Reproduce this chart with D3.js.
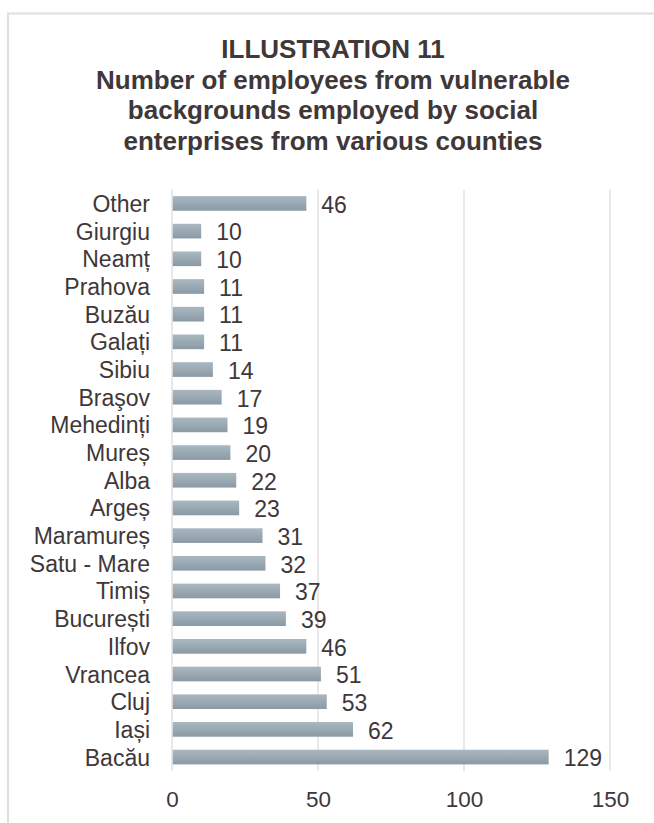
<!DOCTYPE html>
<html>
<head>
<meta charset="utf-8">
<script src="https://cdn.jsdelivr.net/npm/d3@7"></script>
<style>
  html, body { margin: 0; padding: 0; background: #ffffff; }
  svg { display: block; }
  text { font-family: "Liberation Sans", Arial, sans-serif; }
</style>
</head>
<body>
<div id="chart"></div>
<script>
// ---- Data ----
const titleLines = [
  "ILLUSTRATION 11",
  "Number of employees from vulnerable",
  "backgrounds employed by social",
  "enterprises from various counties"
];
const categories = ["Other", "Giurgiu", "Neamț", "Prahova", "Buzău", "Galați", "Sibiu", "Braşov",
  "Mehedinți", "Mureș", "Alba", "Argeș", "Maramureș", "Satu - Mare", "Timiș", "București",
  "Ilfov", "Vrancea", "Cluj", "Iași", "Bacău"];
const values = [46, 10, 10, 11, 11, 11, 14, 17, 19, 20, 22, 23, 31, 32, 37, 39, 46, 51, 53, 62, 129];
const tickValues = [0, 50, 100, 150];

// ---- Layout ----
const W = 654, H = 823;
const textColor = "#403739";
const gridColor = "#e3dfe0";

const svg = d3.select("#chart").append("svg")
  .attr("width", W).attr("height", H);

svg.append("rect").attr("x", 0).attr("y", 0).attr("width", W).attr("height", H).attr("fill", "#fff");

// chart border (extends beyond right/bottom of the window)
svg.append("rect")
  .attr("x", 8).attr("y", 13.5)
  .attr("width", 700).attr("height", 900)
  .attr("fill", "none")
  .attr("stroke", "#e2dede")
  .attr("stroke-width", 2);

const defs = svg.append("defs");
const grad = defs.append("linearGradient").attr("id", "barGrad")
  .attr("x1", 0).attr("y1", 0).attr("x2", 0).attr("y2", 1);
grad.append("stop").attr("offset", "0%").attr("stop-color", "#aab7c0");
grad.append("stop").attr("offset", "100%").attr("stop-color", "#8a9aa5");

// title
const title = svg.append("text")
  .attr("text-anchor", "middle")
  .attr("fill", textColor)
  .attr("font-weight", "bold")
  .attr("font-size", 26);
titleLines.forEach((l, i) => {
  title.append("tspan").attr("x", 333).attr("y", 58 + i * 30.5).text(l);
});

const x = d3.scaleLinear().domain([0, 150]).range([172, 610]);
const y = d3.scaleBand().domain(categories).range([189.6, 770.9]).paddingInner(0.47).paddingOuter(0.235);

// gridlines
svg.append("g").selectAll("line").data(tickValues).join("line")
  .attr("x1", d => x(d)).attr("x2", d => x(d))
  .attr("y1", 189.6).attr("y2", 770.9)
  .attr("stroke", gridColor).attr("stroke-width", 1.5);

// bars
svg.append("g").selectAll("rect").data(values).join("rect")
  .attr("x", x(0) + 0.75)
  .attr("y", (d, i) => y(categories[i]))
  .attr("width", d => x(d) - x(0) - 0.75)
  .attr("height", y.bandwidth())
  .attr("fill", "url(#barGrad)");

// value labels
svg.append("g").selectAll("text").data(values).join("text")
  .attr("x", d => x(d) + 15)
  .attr("y", (d, i) => y(categories[i]) + y.bandwidth() / 2 + 9.3)
  .attr("font-size", 23)
  .attr("fill", textColor)
  .text(d => d);

// category labels
svg.append("g").selectAll("text").data(categories).join("text")
  .attr("x", 150)
  .attr("y", d => y(d) + y.bandwidth() / 2 + 8.5)
  .attr("text-anchor", "end")
  .attr("font-size", 23)
  .attr("fill", textColor)
  .text(d => d);

// x axis tick labels
const xAxis = d3.axisBottom(x).tickValues(tickValues).tickSize(0).tickPadding(0);
const gx = svg.append("g").attr("transform", "translate(0,790)").call(xAxis);
gx.select(".domain").remove();
gx.selectAll("text")
  .attr("dy", 0).attr("y", 17)
  .attr("font-size", 22.5)
  .attr("font-family", "\"Liberation Sans\", Arial, sans-serif")
  .attr("fill", textColor);
</script>
</body>
</html>
